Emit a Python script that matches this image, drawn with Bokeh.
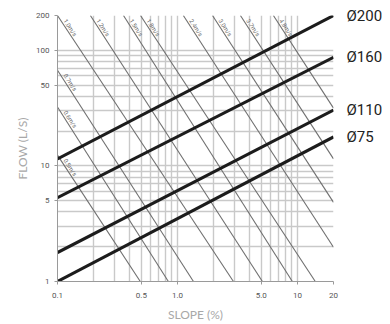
from bokeh.plotting import figure
from bokeh.models import Range1d, FixedTicker, LogAxis, ColumnDataSource
from bokeh.embed import file_html
from bokeh.resources import INLINE
from bokeh.core.properties import value

# ---------------- data ----------------
x_ticks = [0.1, 0.5, 1.0, 5.0, 10, 20]
x_tick_labels = ["0.1", "0.5", "1.0", "5.0", "10", "20"]
y_ticks = [1, 5, 10, 50, 100, 200]
y_tick_labels = ["1", "5", "10", "50", "100", "200"]

grid_x = [0.1, 0.2, 0.3, 0.4, 0.5, 0.6, 0.7, 0.8, 0.9,
          1, 2, 3, 4, 5, 6, 7, 8, 9, 10, 20]
grid_y = [1, 2, 3, 4, 5, 6, 7, 8, 9, 10,
          20, 30, 40, 50, 60, 70, 80, 90, 100, 200]

pipes = ["Ø200", "Ø160", "Ø110", "Ø75"]
pipe_slope_start = 0.1
pipe_slope_end = 20
pipe_flow_start = [11.5, 5.3, 1.78, 1.0]
pipe_flow_end = [200, 87, 30.4, 17.8]

vel_labels = ["0.5m/s", "0.6m/s", "0.7m/s", "1.0m/s", "1.2m/s", "1.5m/s",
              "1.8m/s", "2.4m/s", "3.0m/s", "3.7m/s", "4.8m/s"]
vel_x0 = [0.1, 0.1, 0.1, 0.1, 0.188, 0.355, 0.492, 1.12, 1.96, 3.35, 6.31]
vel_y0 = [12.4, 32.3, 67.3, 200, 200, 200, 200, 200, 200, 200, 200]
vel_x1 = [0.49, 0.84, 1.36, 2.93, 5.11, 9.08, 14.1, 20, 20, 20, 20]
vel_y1 = [1, 1, 1, 1, 1, 1, 1, 1.98, 4.84, 11.5, 31.6]

# ---------------- figure ----------------
p = figure(width=390, height=324, x_axis_type="log", y_axis_type="log",
           x_range=Range1d(0.1, 20), y_range=Range1d(1, 200),
           output_backend="svg", toolbar_location=None,
           min_border_left=57, min_border_right=57,
           min_border_top=15, min_border_bottom=42)
p.outline_line_color = None
p.background_fill_color = "white"

for g, t in ((p.xgrid, grid_x), (p.ygrid, grid_y)):
    g.ticker = FixedTicker(ticks=t)
    g.grid_line_color = "#c9c9c9"
    g.grid_line_width = 1.4

p.xaxis.ticker = FixedTicker(ticks=x_ticks)
p.xaxis.major_label_overrides = {float(k): v for k, v in zip(x_ticks, x_tick_labels)}
p.yaxis.ticker = FixedTicker(ticks=y_ticks)
p.yaxis.major_label_overrides = {float(k): v for k, v in zip(y_ticks, y_tick_labels)}

for ax in (p.xaxis, p.yaxis):
    ax.axis_line_color = "#9a9a9a"
    ax.major_tick_line_color = "#9a9a9a"
    ax.major_tick_out = 3
    ax.major_tick_in = 0
    ax.minor_tick_line_color = None
    ax.major_label_text_font = "Roboto"
    ax.major_label_text_font_size = "8px"
    ax.major_label_text_color = "#555555"
    ax.axis_label_text_font = "Lato"
    ax.axis_label_text_font_style = "normal"
    ax.axis_label_text_font_size = "12px"
    ax.axis_label_text_color = "#a8a8a8"

p.xaxis.axis_label = "SLOPE (%)"
p.yaxis.axis_label = "FLOW (L/S)"
p.xaxis.major_label_standoff = 8
p.xaxis.axis_label_standoff = 6
p.yaxis.major_label_standoff = 5
p.yaxis.axis_label_standoff = 3

# pipe names as a right-hand axis
pipe_axis = LogAxis(ticker=FixedTicker(ticks=pipe_flow_end),
                    major_label_overrides={float(v): n for v, n in zip(pipe_flow_end, pipes)})
pipe_axis.axis_line_color = None
pipe_axis.major_tick_line_color = None
pipe_axis.minor_tick_line_color = None
pipe_axis.major_label_standoff = 7
pipe_axis.major_label_text_font = "Roboto"
pipe_axis.major_label_text_font_size = "15px"
pipe_axis.major_label_text_color = "#222222"
p.add_layout(pipe_axis, "right")

# velocity lines
vsrc = ColumnDataSource(dict(x0=vel_x0, y0=vel_y0, x1=vel_x1, y1=vel_y1, lab=vel_labels))
p.segment(x0="x0", y0="y0", x1="x1", y1="y1", source=vsrc,
          line_color="#6f6f6f", line_width=1.1)
p.text(x="x0", y="y0", text="lab", source=vsrc, angle=-0.99,
       x_offset=13, y_offset=12, text_align="center", text_baseline="middle",
       text_font=value("Roboto"), text_font_size="6px", text_color="#666666")

# pipe lines
p.multi_line(xs=[[pipe_slope_start, pipe_slope_end] for _ in pipes],
             ys=[[a, b] for a, b in zip(pipe_flow_start, pipe_flow_end)],
             line_color="#1c1c1c", line_width=3)

open("out.html", "w").write(file_html(p, INLINE))
